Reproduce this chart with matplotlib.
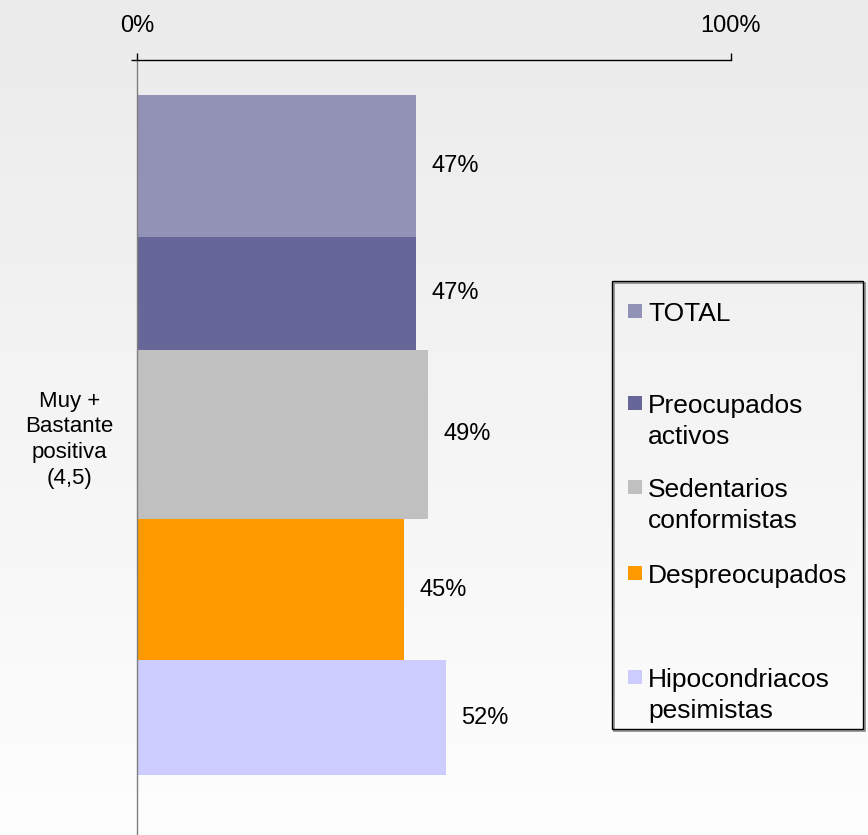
import numpy as np
import matplotlib
matplotlib.use("Agg")
import matplotlib.pyplot as plt
from matplotlib.patches import Rectangle

plt.rcParams['font.family'] = ['Liberation Sans', 'DejaVu Sans']

# datos
categoria = "Muy +\nBastante\npositiva\n(4,5)"
segmentos = ["TOTAL", "Preocupados\nactivos", "Sedentarios\nconformistas",
             "Despreocupados", "Hipocondriacos\npesimistas"]
valores = [47, 47, 49, 45, 52]
etiquetas_x = ["0%", "100%"]

colores = ["#9292B6", "#666699", "#C0C0C0", "#FF9900", "#CCCCFF"]
# grosor relativo de cada barra (como en el original)
grosor = [1.04, 0.83, 1.24, 1.04, 0.84]

W, H = 868, 835
fig = plt.figure(figsize=(W / 100, H / 100), dpi=100)

# fondo degradado
bg = fig.add_axes([0, 0, 1, 1], zorder=-10)
grad = np.linspace(0, 1, 256).reshape(-1, 1)
bg.imshow(grad, aspect='auto', cmap=matplotlib.colors.LinearSegmentedColormap.from_list(
    'g', ['#EBEBEB', '#FEFEFE']), extent=[0, 1, 0, 1], origin='upper')
bg.axis('off')


def fx(px):
    return px / W


def fy(py):
    return 1 - py / H


ax = fig.add_axes([fx(137), 0, fx(731) - fx(137), fy(60)])
ax.set_facecolor('none')

# barras apiladas verticalmente alrededor del centro de la categoría
total = sum(grosor)
bordes = np.concatenate([[0], np.cumsum(grosor)]) - total / 2
centros = (bordes[:-1] + bordes[1:]) / 2
ax.barh(centros, valores, height=grosor, color=colores, edgecolor='none')

for c, v in zip(centros, valores):
    ax.annotate(f"{v}%", (v, c), xytext=(11, 0), textcoords='offset points',
                va='center', ha='left', fontsize=17, color='black')

y_top = bordes[0] - 35 / 136
y_bot = bordes[-1] + 60 / 136
ax.set_xlim(0, 100)
ax.set_ylim(y_bot, y_top)

ax.xaxis.tick_top()
ax.set_xticks([0, 100], labels=etiquetas_x)
ax.tick_params(axis='x', direction='out', length=5, width=1, color='black',
               labelsize=17, pad=11.5)

ax.set_yticks([y_top], labels=[''])
ax.tick_params(axis='y', which='major', direction='out', length=4.5, width=1, color='black')
ax.set_yticks([0], labels=[categoria], minor=True)
ax.tick_params(axis='y', which='minor', length=0, labelsize=16, pad=17)
for t in ax.get_yticklabels(minor=True):
    t.set_multialignment('center')
    t.set_linespacing(1.3)

ax.spines['right'].set_visible(False)
ax.spines['bottom'].set_visible(False)
ax.spines['top'].set_color('black')
ax.spines['top'].set_linewidth(1)
ax.spines['left'].set_color('#7F7F7F')
ax.spines['left'].set_linewidth(1)

# leyenda manual (cuadro con sombra)
fig.patches.append(Rectangle((fx(614), fy(731)), fx(863) - fx(612), fy(281) - fy(729),
                             transform=fig.transFigure, facecolor='none',
                             edgecolor='#888888', linewidth=1.2, zorder=4))
fig.patches.append(Rectangle((fx(612), fy(729)), fx(863) - fx(612), fy(281) - fy(729),
                             transform=fig.transFigure, facecolor='none',
                             edgecolor='black', linewidth=1, zorder=5))
bases = [321, 413, 497, 583, 687]
for nombre, col, b in zip(segmentos, colores, bases):
    fig.patches.append(Rectangle((fx(628), fy(b - 3)), fx(14), 14 / H,
                                 transform=fig.transFigure, facecolor=col,
                                 edgecolor='none', zorder=6))
    for i, linea in enumerate(nombre.split("\n")):
        fig.text(fx(648), fy(b + 31 * i), linea, fontsize=19, va='baseline',
                 ha='left', color='black')

fig.savefig("out.png", dpi=100)
